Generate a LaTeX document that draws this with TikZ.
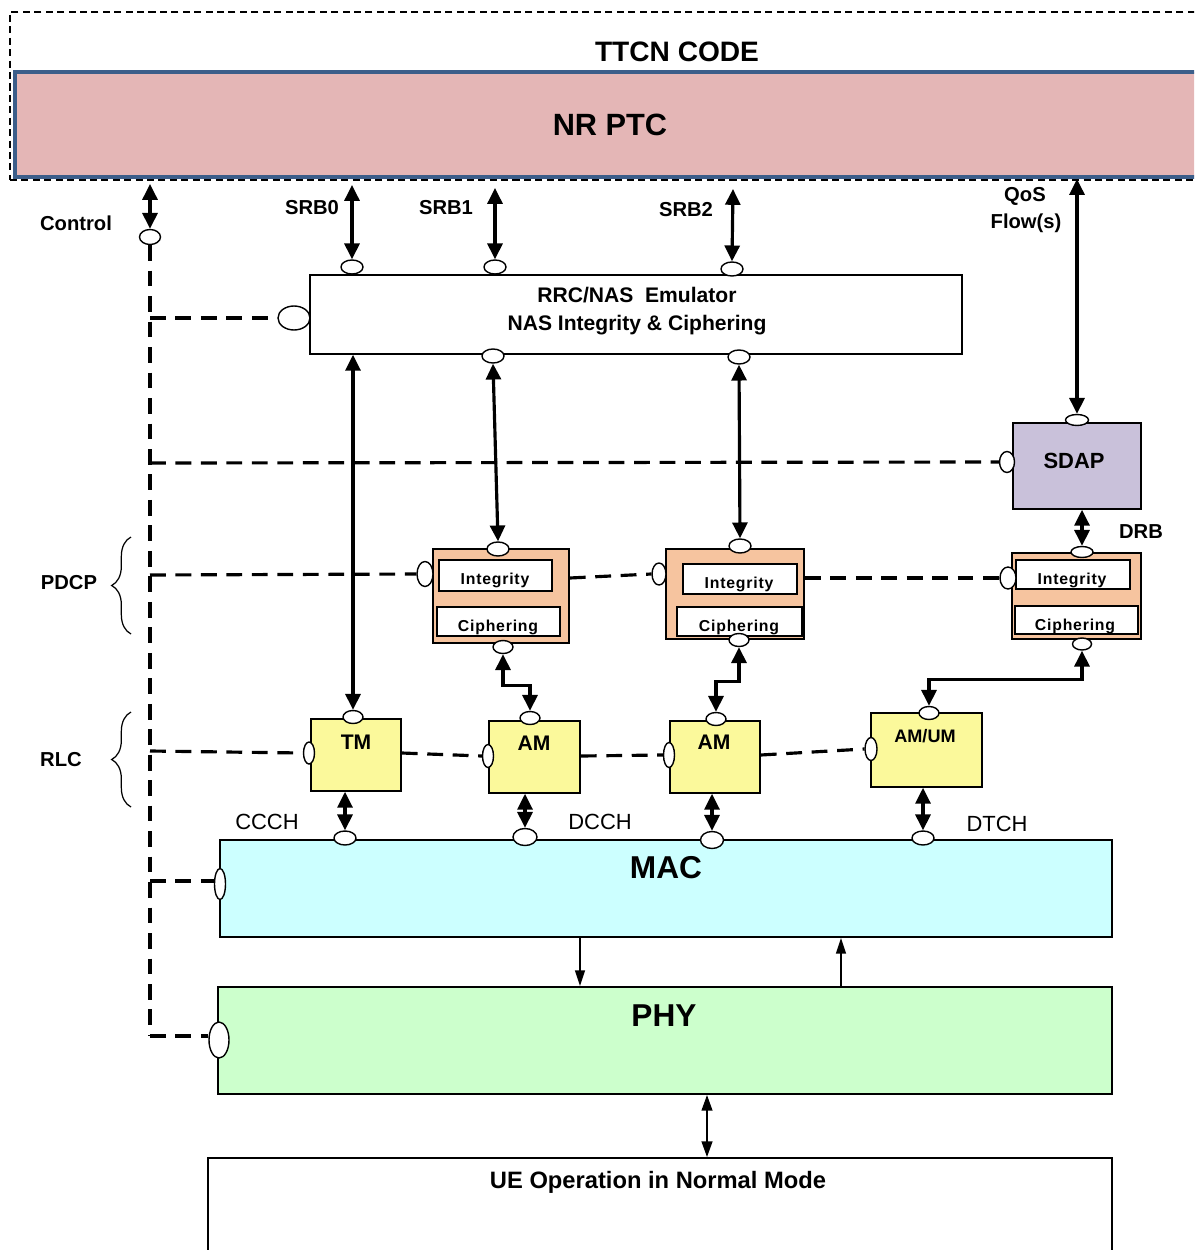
\documentclass[tikz,border=0pt]{standalone}
\usepackage{fontspec}
\setmainfont{Liberation Sans}
\usetikzlibrary{arrows.meta,shapes.geometric,fit,decorations.pathreplacing}
\definecolor{ptcfill}{HTML}{E4B6B6}
\definecolor{ptcline}{HTML}{3C5E8A}
\definecolor{sdapc}{HTML}{C9C1DA}
\definecolor{pdcpc}{HTML}{F6C49F}
\definecolor{rlcc}{HTML}{FBF99B}
\definecolor{macc}{HTML}{CCFFFF}
\definecolor{phyc}{HTML}{CCFFCC}
\begin{document}
\begin{tikzpicture}[x=0.02cm,y=-0.02cm,
  blk/.style={draw=black, line width=0.9pt, inner sep=0pt},
  ibox/.style={draw=black, fill=white, line width=0.8pt, inner sep=0pt},
  port/.style={ellipse, draw=black, fill=white, line width=0.8pt, inner sep=0pt, minimum width=0.44cm, minimum height=0.28cm},
  vport/.style={port, minimum width=0.3cm, minimum height=0.46cm},
  link/.style={line width=1.8pt, {Triangle[length=9pt,width=8.5pt]}-{Triangle[length=9pt,width=8.5pt]}},
  ctl/.style={line width=1.8pt, dash pattern=on 9pt off 5.5pt},
  oneway/.style={line width=1.2pt, -{Triangle[length=9pt,width=5.5pt]}},
  twoway/.style={line width=1.4pt, {Triangle[length=9pt,width=6pt]}-{Triangle[length=9pt,width=6pt]}},
  bt/.style={inner sep=0pt, font=\bfseries\fontsize{11.5}{14}\selectfont},
  nt/.style={inner sep=0pt, font=\fontsize{12.5}{15}\selectfont},
  st/.style={inner sep=0pt, font=\bfseries\fontsize{9}{11}\selectfont\addfontfeature{LetterSpace=5}},
  big/.style={inner sep=0pt, font=\bfseries\fontsize{18}{21}\selectfont},
]
\useasboundingbox (0,0) rectangle (1194,1250);
\clip (0,0) rectangle (1194,1250);

% ---- TTCN / PTC
\node[fit={(10,12)(1215,180)}, inner sep=0pt, draw, line width=0.6pt, dash pattern=on 4pt off 2.5pt] (ttcn) {};
\node[fit={(15,72)(1215,177)}, inner sep=0pt, draw=ptcline, fill=ptcfill, line width=2.3pt] (ptc) {};
\node[inner sep=0pt, font=\bfseries\fontsize{16}{19}\selectfont] (ttcnt) at (677,52) {TTCN CODE};
\node[inner sep=0pt, font=\bfseries\fontsize{17.5}{20}\selectfont] (ptct) at (610,125) {NR PTC};

% ---- boxes
\node[blk, fill=white, fit={(310,275)(962,354)}] (rrc) {};
\node[bt, font=\bfseries\fontsize{12}{15.5}\selectfont, align=center] (rrct) at (637,311) {RRC/NAS\ \ Emulator\\NAS Integrity \& Ciphering};

\node[blk, fill=sdapc, fit={(1013,423)(1141,509)}] (sdap) {};
\node[bt, font=\bfseries\fontsize{12.5}{15}\selectfont] (sdapt) at (1074,461) {SDAP};

\node[blk, fill=pdcpc, fit={(433,549)(569,643)}] (p1) {};
\node[ibox, fit={(439,560)(552,591)}] (p1i) {};
\node[ibox, fit={(437,607)(560,636)}] (p1c) {};
\node[st] (p1it) at (495,580) {Integrity};
\node[st] (p1ct) at (498,627) {Ciphering};

\node[blk, fill=pdcpc, fit={(666,549)(804,639)}] (p2) {};
\node[ibox, fit={(683,564)(797,594)}] (p2i) {};
\node[ibox, fit={(677,607)(802,636)}] (p2c) {};
\node[st] (p2it) at (739,584) {Integrity};
\node[st] (p2ct) at (739,627) {Ciphering};

\node[blk, fill=pdcpc, fit={(1012,553)(1141,639)}] (p3) {};
\node[ibox, fit={(1016,560)(1130,589)}] (p3i) {};
\node[ibox, fit={(1015,606)(1138,634)}] (p3c) {};
\node[st] (p3it) at (1072,580) {Integrity};
\node[st] (p3ct) at (1075,626) {Ciphering};

\node[blk, fill=rlcc, fit={(311,719)(401,791)}] (tm) {};
\node[blk, fill=rlcc, fit={(489,721)(580,793)}] (am1) {};
\node[blk, fill=rlcc, fit={(670,721)(760,793)}] (am2) {};
\node[blk, fill=rlcc, fit={(871,713)(982,787)}] (amum) {};
\node[bt, font=\bfseries\fontsize{12}{14}\selectfont] (tmt) at (356,742) {TM};
\node[bt, font=\bfseries\fontsize{12}{14}\selectfont] (am1tx) at (534,743) {AM};
\node[bt, font=\bfseries\fontsize{12}{14}\selectfont] (am2tx) at (714,742) {AM};
\node[bt, font=\bfseries\fontsize{10.3}{12}\selectfont] (amumtx) at (925,736) {AM/UM};

\node[blk, fill=macc, fit={(220,840)(1112,937)}] (mac) {};
\node[big] (mact) at (666,868) {MAC};
\node[blk, fill=phyc, fit={(218,987)(1112,1094)}] (phy) {};
\node[big] (phyt) at (664,1016) {PHY};
\node[blk, fill=white, fit={(208,1158)(1112,1275)}] (ue) {};
\node[bt, font=\bfseries\fontsize{13.5}{16}\selectfont] (uet) at (658,1182) {UE Operation in Normal Mode};

% ---- labels
\node[bt] (lctl) at (76,223) {Control};
\node[bt] (lsrb0) at (312,208) {SRB0};
\node[bt] (lsrb1) at (446,208) {SRB1};
\node[bt] (lsrb2) at (686,210) {SRB2};
\node[bt] (lqos) at (1025,196) {QoS};
\node[bt] (lflow) at (1026,223) {Flow(s)};
\node[bt] (ldrb) at (1141,532) {DRB};
\node[bt] (lpdcp) at (69,583) {PDCP};
\node[bt] (lrlc) at (61,760) {RLC};
\node[nt] (lccch) at (267,822) {CCCH};
\node[nt] (ldcch) at (600,822) {DCCH};
\node[nt] (ldtch) at (997,824) {DTCH};

\draw[decorate, decoration={brace, amplitude=11pt}, line width=0.7pt] (131,634) -- (131,537);
\draw[decorate, decoration={brace, amplitude=11pt}, line width=0.7pt] (131,807) -- (131,712);

% ---- ports
\node[port, minimum width=0.42cm, minimum height=0.3cm] (ctlp) at (150,237) {};
\node[port] (s0p) at (352,267) {};
\node[port] (s1p) at (495,267) {};
\node[port] (s2p) at (732,269) {};
\node[port] (rb1) at (493,356) {};
\node[port] (rb2) at (739,357) {};
\node[port, minimum width=0.64cm, minimum height=0.48cm] (rrcl) at (294,318) {};
\node[port, minimum width=0.46cm, minimum height=0.22cm] (sdt) at (1077,420) {};
\node[vport, minimum width=0.3cm, minimum height=0.42cm] (sdl) at (1007,462) {};
\node[port] (p1t) at (498,549) {};
\node[vport, minimum width=0.32cm, minimum height=0.5cm] (p1l) at (425,574) {};
\node[port, minimum width=0.4cm, minimum height=0.26cm] (p1b) at (503,647) {};
\node[port] (p2t) at (740,546) {};
\node[vport, minimum width=0.28cm, minimum height=0.44cm] (p2l) at (659,574) {};
\node[port, minimum width=0.4cm, minimum height=0.26cm] (p2b) at (739,640) {};
\node[port, minimum width=0.44cm, minimum height=0.22cm] (p3t) at (1082,552) {};
\node[vport, minimum width=0.32cm, minimum height=0.44cm] (p3l) at (1008,578) {};
\node[port, minimum width=0.38cm, minimum height=0.24cm] (p3b) at (1082,644) {};
\node[port, minimum width=0.4cm, minimum height=0.26cm] (tmp) at (353,717) {};
\node[port, minimum width=0.4cm, minimum height=0.26cm] (am1p) at (530,718) {};
\node[port, minimum width=0.4cm, minimum height=0.26cm] (am2p) at (716,719) {};
\node[port, minimum width=0.4cm, minimum height=0.26cm] (amump) at (929,713) {};
\node[vport, minimum width=0.22cm, minimum height=0.44cm] (tml) at (309,753) {};
\node[vport, minimum width=0.22cm, minimum height=0.46cm] (am1l) at (488,756) {};
\node[vport, minimum width=0.22cm, minimum height=0.5cm] (am2l) at (669,755) {};
\node[vport, minimum width=0.24cm, minimum height=0.46cm] (amuml) at (871,749) {};
\node[port] (m1) at (345,838) {};
\node[port, minimum width=0.48cm, minimum height=0.34cm] (m2) at (525,837) {};
\node[port, minimum width=0.46cm, minimum height=0.34cm] (m3) at (712,840) {};
\node[port] (m4) at (923,838) {};
\node[vport, minimum width=0.22cm, minimum height=0.62cm] (macl) at (220,884) {};
\node[vport, minimum width=0.4cm, minimum height=0.72cm] (phyl) at (219,1040) {};

% ---- control dashed lines
\coordinate (b1) at (150,318);
\coordinate (b2) at (150,463);
\coordinate (b3) at (150,575);
\coordinate (b4) at (150,751);
\coordinate (b5) at (150,881);
\coordinate (b6) at (150,1036);
\draw[ctl] (ctlp.south) -- (b6);
\draw[ctl] (b1) -- (rrcl.west);
\draw[ctl] (b2) -- (sdl.west);
\draw[ctl] (b3) -- (p1l.west);
\draw[ctl] (b4) -- (tml.west);
\draw[ctl] (b5) -- (b5 -| macl.west);
\draw[ctl] (b6) -- (b6 -| phyl.west);
\draw[ctl] (p1.east |- p1l) ++(0,4) -- (p2l.west);
\draw[ctl] (p2.east |- p3l) -- (p3l.west);
\draw[ctl] (tm.east |- tml) -- (am1l.west);
\draw[ctl] (am1.east |- am1l) -- (am2l.west);
\draw[ctl] (am2.east |- am2l) -- (amuml.west);

% ---- solid connectors
\coordinate (ctop) at (150,184);
\coordinate (s0top) at (352,185);
\coordinate (s1top) at (495,188);
\coordinate (s2top) at (733,189);
\draw[link] (ctop) -- (ctlp.north);
\draw[link] (s0top) -- (s0p.north);
\draw[link] (s1top) -- (s1p.north);
\draw[link] (s2top) -- (s2p.north);
\draw[link] (ptc.south -| sdt.north) -- (sdt.north);
\draw[link] (rrc.south -| tmp.north) -- (tmp.north);
\draw[link] (rb1.south) -- (p1t.north);
\draw[link] (rb2.south) -- (p2t.north);
\draw[link] (sdap.south -| p3t.north) -- (p3t.north);
\draw[link] (p1b.south) -- ++(0,31) -| (am1p.north);
\draw[link] (p2b.south) -- ++(0,34) -| (am2p.north);
\draw[link] (p3b.south) -- ++(0,29) -| (amump.north);
\draw[link] (tm.south -| m1.north) -- (m1.north);
\draw[link] (am1.south -| m2.north) -- (m2.north);
\draw[link] (am2.south -| m3.north) -- (m3.north);
\draw[link] (amum.south -| m4.north) -- (m4.north);

\coordinate (dn) at (580,960);
\coordinate (upc) at (841,960);
\coordinate (pu) at (707,1120);
\draw[oneway] (mac.south -| dn) -- (phy.north -| dn);
\draw[oneway] (phy.north -| upc) -- (mac.south -| upc);
\draw[twoway] (phy.south -| pu) -- (ue.north -| pu);
\end{tikzpicture}
\end{document}
